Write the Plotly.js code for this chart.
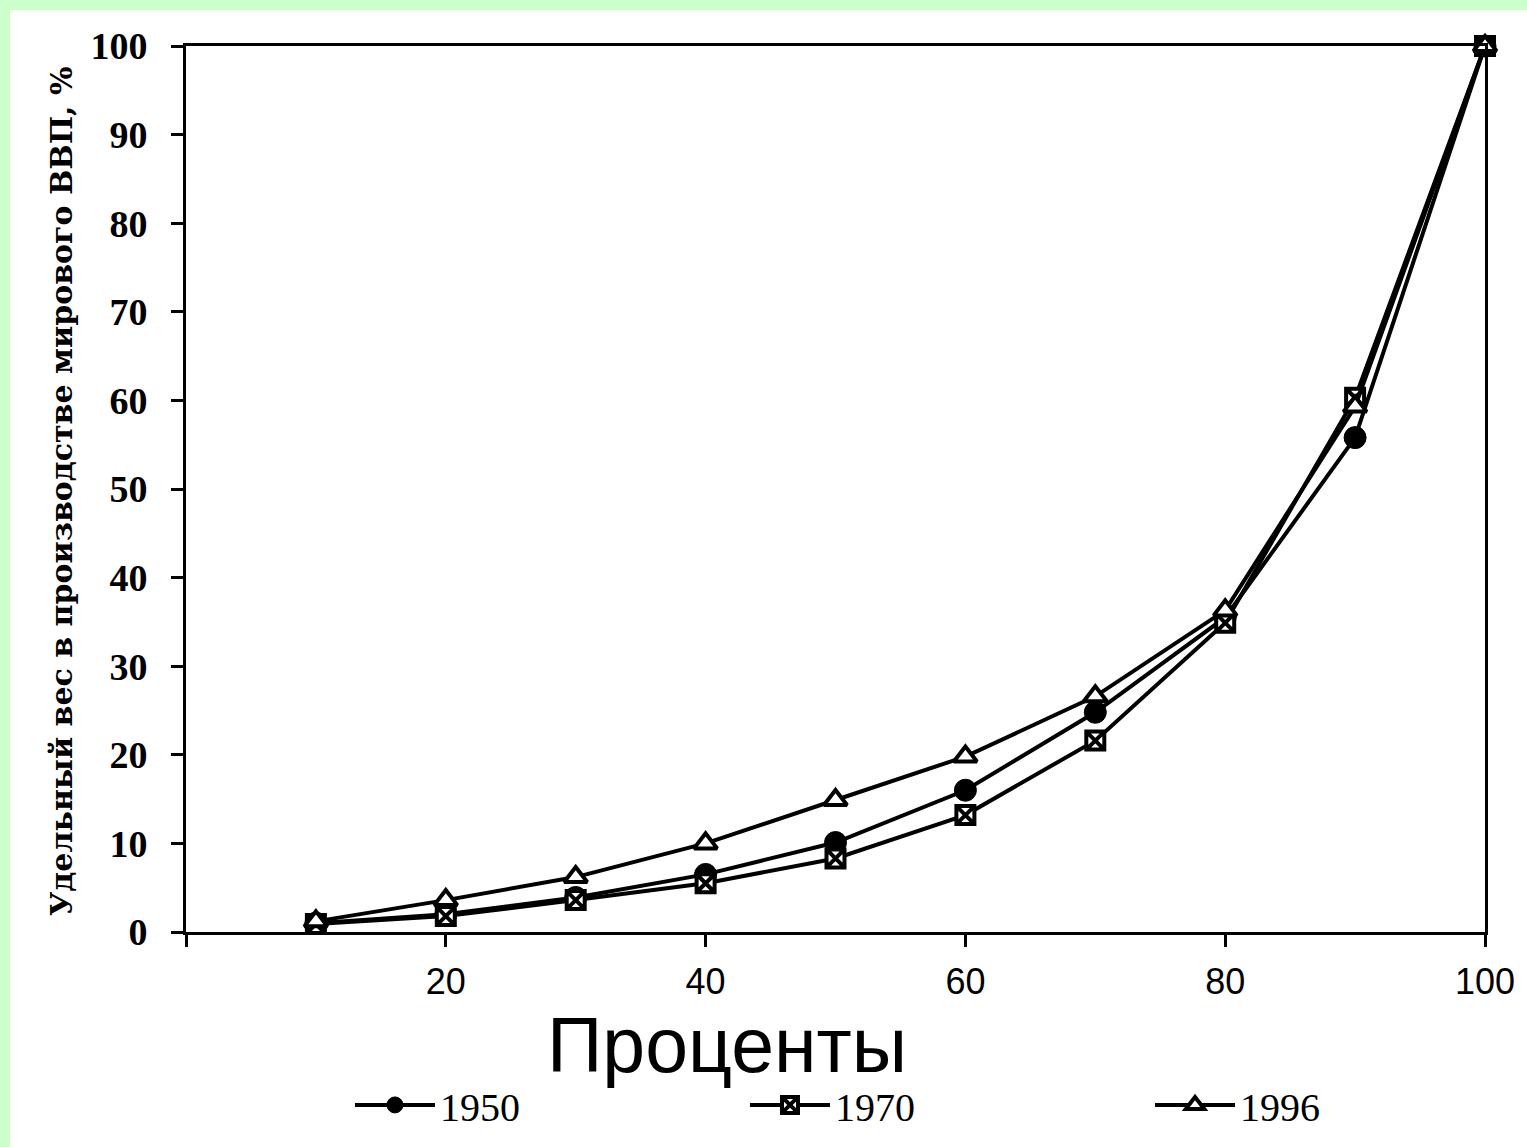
<!DOCTYPE html>
<html>
<head>
<meta charset="utf-8">
<script src="https://cdn.plot.ly/plotly-3.0.1.min.js"></script>
<style>
html,body{margin:0;padding:0;background:#ccffcc;overflow:hidden;}
#chart{position:absolute;left:10px;top:10px;width:1517px;height:1137px;background:#fff;}
</style>
</head>
<body>
<div id="chart"></div>
<script>
const percents = [10, 20, 30, 40, 50, 60, 70, 80, 90, 100];
const share1950 = [1.0, 2.0, 3.9, 6.5, 10.1, 16.0, 24.8, 35.5, 55.8, 100];
const share1970 = [0.9, 1.8, 3.6, 5.5, 8.3, 13.2, 21.6, 34.9, 60.3, 100];
const share1996 = [1.2, 3.6, 6.2, 10.0, 14.9, 19.8, 26.6, 36.3, 59.3, 100];
const xTickVals = [0, 20, 40, 60, 80, 100];
const xTickText = ['', '20', '40', '60', '80', '100'];
const yTickVals = [0, 10, 20, 30, 40, 50, 60, 70, 80, 90, 100];
const xTitle = 'Проценты';
const yTitle = 'Удельный вес в производстве мирового ВВП, %';

const lineStyle = {color: '#000', width: 4};
const traces = [
  {x: percents, y: share1950, name: '1950', mode: 'lines+markers', line: lineStyle, cliponaxis: false, legend: 'legend',
   marker: {symbol: 'circle', size: 22, color: '#000', line: {color: '#000', width: 1}}},
  {x: percents, y: share1970, name: '1970', mode: 'lines+markers', line: lineStyle, cliponaxis: false, legend: 'legend2',
   marker: {symbol: 'square-x', size: 18, color: '#fff', line: {color: '#000', width: 4}}},
  {x: percents, y: share1996, name: '1996', mode: 'lines+markers', line: lineStyle, cliponaxis: false, legend: 'legend3',
   marker: {symbol: 'triangle-up', size: 20, color: '#fff', line: {color: '#000', width: 4}}}
];

function legendAt(xc) {
  return {orientation: 'h', xref: 'container', yref: 'container', x: xc, xanchor: 'left', y: 0.037, yanchor: 'middle',
    itemwidth: 80, bgcolor: 'rgba(0,0,0,0)',
    font: {family: 'Liberation Serif', size: 40, color: '#000'}};
}

const layout = {
  width: 1517, height: 1137,
  paper_bgcolor: '#fff', plot_bgcolor: '#fff',
  margin: {l: 176, r: 42, t: 36, b: 215},
  showlegend: true,
  legend: legendAt(0.2241),
  legend2: legendAt(0.4845),
  legend3: legendAt(0.7515),
  xaxis: {range: [0, 100], tickvals: xTickVals, ticktext: xTickText,
    showline: true, linecolor: '#000', linewidth: 3, mirror: true,
    ticks: 'outside', ticklen: 12, tickwidth: 3, tickcolor: '#000', showgrid: false, zeroline: false,
    ticklabelstandoff: 4,
    tickfont: {family: 'Liberation Sans', size: 36, color: '#000'}},
  yaxis: {range: [0, 100], tickvals: yTickVals,
    showline: true, linecolor: '#000', linewidth: 3, mirror: true,
    ticks: 'outside', ticklen: 12, tickwidth: 3, tickcolor: '#000', showgrid: false, zeroline: false,
    ticklabelstandoff: 16,
    tickfont: {family: 'Liberation Serif', size: 38, color: '#000', weight: 'bold'}},
  annotations: [
    {text: xTitle, xref: 'paper', yref: 'paper', x: 0.4165, y: -0.128, xanchor: 'center', yanchor: 'middle',
     showarrow: false, font: {family: 'Liberation Sans', size: 77, color: '#000'}},
    {text: yTitle, xref: 'paper', yref: 'paper', x: -0.0962, y: 0.4966, xanchor: 'center', yanchor: 'middle',
     textangle: -90, showarrow: false, font: {family: 'DejaVu Serif', size: 30, color: '#000', weight: 'bold'}}
  ]
};
Plotly.newPlot('chart', traces, layout, {displayModeBar: false});
</script>
</body>
</html>
